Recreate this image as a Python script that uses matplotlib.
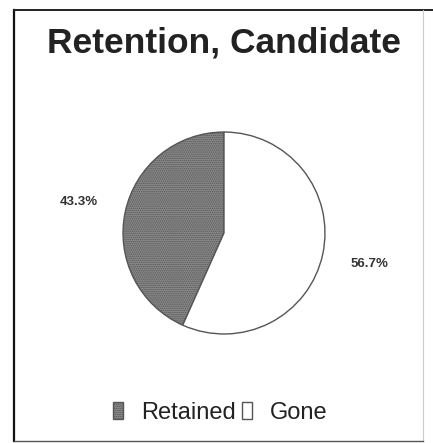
import matplotlib
matplotlib.use("Agg")
import matplotlib.pyplot as plt
from matplotlib.lines import Line2D

categories = ["Retained", "Gone"]
values = [43.3, 56.7]
title = "Retention, Candidate"

W, H = 433, 443
fig = plt.figure(figsize=(W / 100, H / 100), dpi=100)
fig.patch.set_facecolor("white")
plt.rcParams["hatch.color"] = "#2a2a2a"
plt.rcParams["hatch.linewidth"] = 0.7

cx, cy, r = 224, 233, 103
ax = fig.add_axes([(cx - r) / W, (H - cy - r) / H, 2 * r / W, 2 * r / H])
wedges, texts = ax.pie(
    values,
    labels=[f"{v:.1f}%" for v in values],
    startangle=90,
    counterclock=True,
    colors=["#8a8a8a", "white"],
    labeldistance=1.47,
    wedgeprops=dict(edgecolor="#555555", linewidth=1.0),
    textprops=dict(fontsize=9.5, fontweight="bold", family="Liberation Sans", color="#333333"),
)
for t in texts:
    t.set_ha("center")
    t.set_va("center")
wedges[0].set_hatch("........")
ax.set_xlim(-1.02, 1.02)
ax.set_ylim(-1.02, 1.02)
ax.set_aspect("auto")
ax.axis("off")

fig.text(cx / W, 1 - 43 / H, title, ha="center", va="center",
         fontsize=25.5, fontweight="bold", family="Liberation Sans", color="#222222")

leg = fig.legend(wedges, categories, loc="center", bbox_to_anchor=(220 / W, 1 - 413 / H),
                 ncol=2, frameon=False, handlelength=0.45, handleheight=0.7,
                 handletextpad=0.75, columnspacing=0.25,
                 prop=dict(family="Liberation Sans", size=17))
for t in leg.get_texts():
    t.set_color("#222222")

# frame around chart
L, T, R, B = 14, 10, 423, 441
def fx(x): return x / W
def fy(y): return 1 - y / H
fig.add_artist(Line2D([fx(L), fx(L)], [fy(T), fy(B)], color="#111111", lw=1.6))
fig.add_artist(Line2D([fx(L), fx(433)], [fy(T), fy(T)], color="#222222", lw=1.4))
fig.add_artist(Line2D([fx(R), fx(R)], [fy(T), fy(B)], color="#cccccc", lw=0.8))
fig.add_artist(Line2D([fx(L), fx(R)], [fy(B), fy(B)], color="#555555", lw=1.0))

fig.savefig("out.png", dpi=100, facecolor="white")
